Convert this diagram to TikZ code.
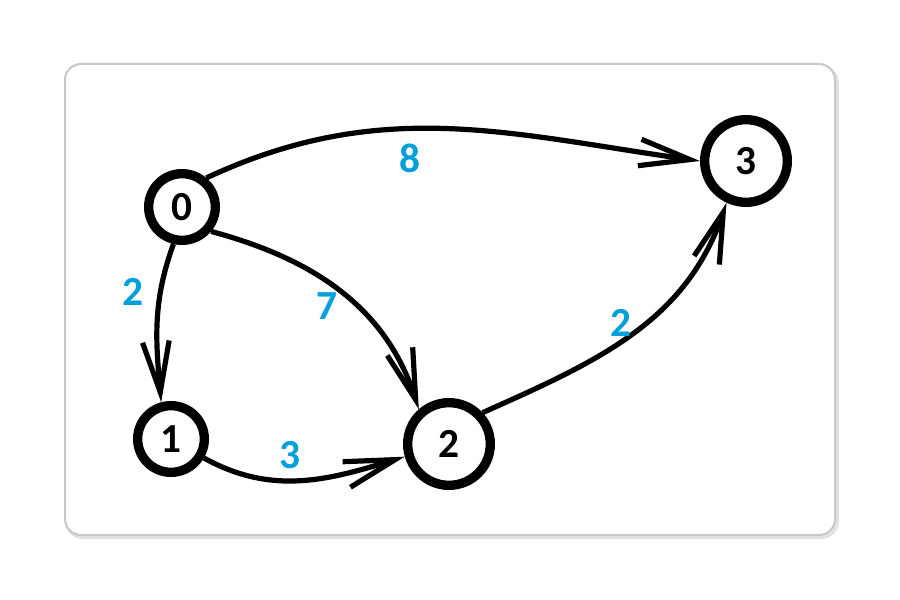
\documentclass[tikz,border=0pt]{standalone}
\usepackage{fontspec}
\setmainfont{Carlito}
\usetikzlibrary{arrows.meta}
\definecolor{lblblue}{RGB}{0,160,220}
\definecolor{framegray}{RGB}{200,200,200}
\definecolor{shadowgray}{RGB}{225,225,225}
\begin{document}
\begin{tikzpicture}[x=0.75pt,y=0.75pt,
  vtx/.style={circle,draw,line width=7pt,inner sep=0pt,font=\fontsize{31}{33}\selectfont\bfseries},
  smallvtx/.style={vtx,minimum size=50pt},
  bigvtx/.style={vtx,minimum size=62pt},
  edge/.style={line width=3.9pt,-{Straight Barb[length=38pt,width=20pt]}},
  wlabel/.style={text=lblblue,font=\fontsize{31}{33}\selectfont\bfseries}
]
\useasboundingbox (0,0) rectangle (900,600);
\fill[white] (0,0) rectangle (900,600);
% frame
\draw[shadowgray,line width=3pt,rounded corners=12pt] (67,63) rectangle (837,533);
\draw[framegray,fill=white,line width=1.5pt,rounded corners=12pt] (65,65) rectangle (835,536);
% nodes
\node[smallvtx] (n0) at (182,393) {0};
\node[smallvtx] (n1) at (171,161) {1};
\node[bigvtx] (n2) at (449,156) {2};
\node[bigvtx] (n3) at (746,439) {3};
% edges
\draw[edge] (n0.50) to[out=25,in=172] (n3.180);
\draw[edge] (n0.257) to[out=250,in=95] (n1.105);
\draw[edge] (n0.-40) to[out=-15,in=108] (n2.131);
\draw[edge] (n1.-30) to[out=-29,in=197] (n2.196);
\draw[edge] (n2.43) to[out=24,in=251] (n3.245);
% weights
\node[wlabel] (w03) at (410,442) {8};
\node[wlabel] (w01) at (133,308) {2};
\node[wlabel] (w02) at (327,294) {7};
\node[wlabel] (w23) at (621,277) {2};
\node[wlabel] (w12) at (290,145) {3};
\end{tikzpicture}
\end{document}
